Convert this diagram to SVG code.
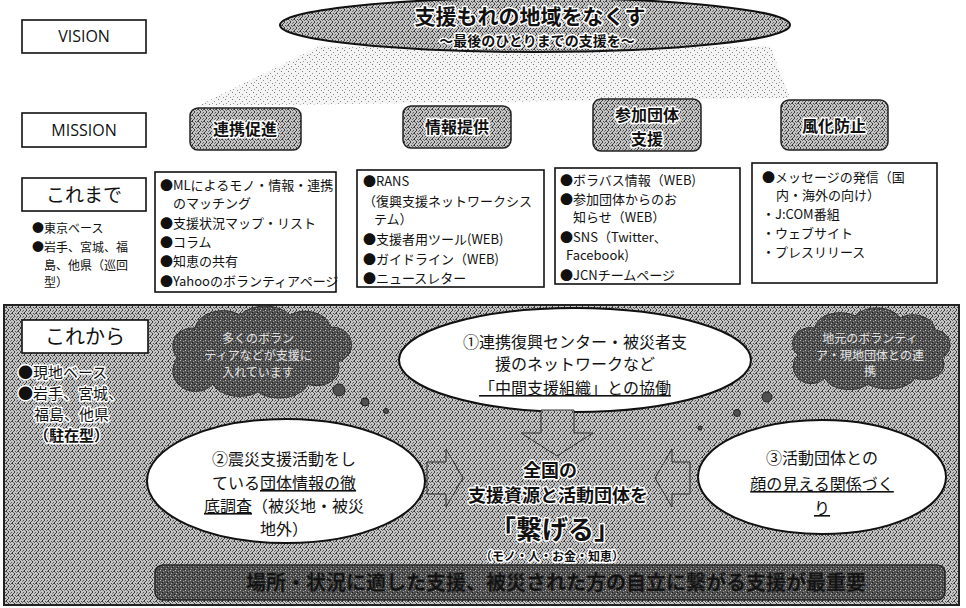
<svg xmlns="http://www.w3.org/2000/svg" width="966" height="608" viewBox="0 0 966 608">
<defs>
<pattern id="ht" width="6" height="6" patternUnits="userSpaceOnUse">
<rect width="6" height="6" fill="#c4c4c4"/>
<rect x="0" y="0" width="1" height="2" fill="#333"/>
<rect x="3" y="1" width="1" height="1" fill="#444"/>
<rect x="2" y="3" width="1" height="2" fill="#3a3a3a"/>
<rect x="5" y="4" width="1" height="1" fill="#555"/>
<rect x="4" y="2" width="1" height="1" fill="#666"/>
<rect x="1" y="5" width="1" height="1" fill="#444"/>
<rect x="4" y="5" width="1" height="1" fill="#777"/>
<rect x="5" y="1" width="1" height="1" fill="#555"/>
<rect x="1" y="2" width="1" height="1" fill="#666"/>
</pattern>
<pattern id="hl" width="7" height="7" patternUnits="userSpaceOnUse">
<rect width="7" height="7" fill="#f4f4f4"/>
<rect x="1" y="1" width="1" height="1" fill="#777"/>
<rect x="4" y="3" width="1" height="1" fill="#888"/>
<rect x="2" y="5" width="1" height="1" fill="#999"/>
<rect x="6" y="6" width="1" height="1" fill="#888"/>
</pattern>
<pattern id="hd" width="5" height="5" patternUnits="userSpaceOnUse">
<rect width="5" height="5" fill="#505050"/>
<rect x="0" y="0" width="1" height="1" fill="#bbb"/>
<rect x="3" y="1" width="1" height="1" fill="#999"/>
<rect x="1" y="3" width="1" height="1" fill="#aaa"/>
<rect x="4" y="4" width="1" height="1" fill="#1a1a1a"/>
<rect x="2" y="2" width="1" height="1" fill="#1a1a1a"/>
</pattern>
<style>
.box{fill:#fff;stroke:#111;stroke-width:1.6}
.lbl{font-family:"Open Sans","Noto Sans",sans-serif;font-size:16px;fill:#111;text-anchor:middle}
.jp{font-family:"Noto Sans CJK JP",sans-serif;fill:#111}
.c{text-anchor:middle}
.s13{font-size:13px}
.halo{stroke:#fff;stroke-width:3;paint-order:stroke;stroke-linejoin:round}
.mbox{fill:url(#ht);stroke:#222;stroke-width:1.5}
.mt{font-family:"Noto Sans CJK JP",sans-serif;font-weight:bold;font-size:16px;fill:#111;text-anchor:middle;stroke:#fff;stroke-width:3;paint-order:stroke;stroke-linejoin:round}
.ell{fill:#fff;stroke:#111;stroke-width:2}
.et{font-family:"Noto Sans CJK JP",sans-serif;font-size:16px;fill:#111;text-anchor:middle}
.cloud{fill:url(#hd);stroke:#333;stroke-width:1}
.ct{font-family:"Noto Sans CJK JP",sans-serif;font-size:12px;fill:#e0e0e0;text-anchor:middle}
.arrow{fill:url(#ht);stroke:#333;stroke-width:1}
.u{text-decoration:underline}
</style>
</defs>

<!-- shaded band under vision -->
<polygon points="320,46 770,46 790,98 198,106" fill="url(#hl)"/>

<g id="vision-label"><rect class="box" x="22" y="20" width="124" height="33"/><text class="lbl" x="84" y="42">VISION</text></g>
<g id="vision">
<ellipse cx="535" cy="25" rx="255" ry="27" fill="url(#ht)" stroke="#111" stroke-width="2"/>
<text class="jp c halo" x="530" y="24" font-size="21" font-weight="bold">支援もれの地域をなくす</text>
<text class="jp c halo" x="537" y="46" font-size="14" font-weight="bold">〜最後のひとりまでの支援を〜</text>
</g>

<g id="mission-label"><rect class="box" x="22" y="113" width="124" height="34"/><text class="lbl" x="84" y="136">MISSION</text></g>
<g id="m1"><rect class="mbox" x="190" y="108" width="111" height="42" rx="8"/><text class="mt" x="245" y="135">連携促進</text></g>
<g id="m2"><rect class="mbox" x="403" y="106" width="108" height="42" rx="8"/><text class="mt" x="457" y="133">情報提供</text></g>
<g id="m3"><rect class="mbox" x="593" y="99" width="108" height="52" rx="8"/><text class="mt" x="647" y="121">参加団体</text><text class="mt" x="647" y="145">支援</text></g>
<g id="m4"><rect class="mbox" x="781" y="100" width="107" height="50" rx="8"/><text class="mt" x="834" y="132">風化防止</text></g>

<g id="korema-label"><rect class="box" x="22" y="178" width="124" height="33"/><text class="jp c" x="84" y="202" font-size="19">これまで</text></g>
<g id="korema-left">
<text class="jp" x="32" y="233" font-size="12">●東京ベース</text>
<text class="jp" x="32" y="252" font-size="12">●岩手、宮城、福</text>
<text class="jp" x="44" y="270" font-size="12">島、他県（巡回</text>
<text class="jp" x="44" y="287" font-size="12">型）</text>
</g>

<g id="b1"><rect class="box" x="155" y="172" width="181" height="120"/>
<text class="jp s13" x="160" y="190">●MLによるモノ・情報・連携</text>
<text class="jp s13" x="173" y="208">のマッチング</text>
<text class="jp s13" x="160" y="228">●支援状況マップ・リスト</text>
<text class="jp s13" x="160" y="247">●コラム</text>
<text class="jp s13" x="160" y="266">●知恵の共有</text>
<text class="jp s13" x="160" y="286">●Yahooのボランティアページ</text>
</g>
<g id="b2"><rect class="box" x="357" y="170" width="187" height="117"/>
<text class="jp s13" x="363" y="186">●RANS</text>
<text class="jp s13" x="363" y="206">（復興支援ネットワークシス</text>
<text class="jp s13" x="374" y="224">テム）</text>
<text class="jp s13" x="363" y="244">●支援者用ツール(WEB)</text>
<text class="jp s13" x="363" y="264">●ガイドライン（WEB)</text>
<text class="jp s13" x="363" y="283">●ニュースレター</text>
</g>
<g id="b3"><rect class="box" x="555" y="168" width="185" height="116"/>
<text class="jp s13" x="560" y="185">●ボラバス情報（WEB)</text>
<text class="jp s13" x="560" y="204">●参加団体からのお</text>
<text class="jp s13" x="573" y="222">知らせ（WEB）</text>
<text class="jp s13" x="560" y="242">●SNS（Twitter、</text>
<text class="jp s13" x="566" y="260">Facebook)</text>
<text class="jp s13" x="560" y="280">●JCNチームページ</text>
</g>
<g id="b4"><rect class="box" x="752" y="163" width="185" height="120"/>
<text class="jp s13" x="762" y="182">●メッセージの発信（国</text>
<text class="jp s13" x="776" y="200">内・海外の向け）</text>
<text class="jp s13" x="762" y="219">・J:COM番組</text>
<text class="jp s13" x="762" y="238">・ウェブサイト</text>
<text class="jp s13" x="762" y="257">・プレスリリース</text>
</g>

<g id="korekara-panel"><rect x="4" y="305" width="955" height="300" fill="url(#ht)" stroke="#222" stroke-width="2"/></g>
<g id="korekara-label"><rect class="box" x="22" y="320" width="126" height="33"/><text class="jp c" x="85" y="344" font-size="20">これから</text></g>
<g id="korekara-left">
<text class="jp halo" x="18" y="378" font-size="15">●現地ベース</text>
<text class="jp halo" x="18" y="399" font-size="15">●岩手、宮城、</text>
<text class="jp halo" x="34" y="420" font-size="15">福島、他県</text>
<text class="jp halo" x="34" y="441" font-size="15" font-weight="bold">（駐在型）</text>
</g>

<g id="cloud-left">
<path class="cloud" d="M178 358 a20 18 0 0 1 17 -30 a28 20 0 0 1 45 -13 a30 20 0 0 1 50 0 a25 18 0 0 1 40 12 a20 18 0 0 1 8 35 a22 18 0 0 1 -30 22 a30 20 0 0 1 -50 8 a28 18 0 0 1 -45 -8 a20 18 0 0 1 -35 -26 z"/>
<text class="ct" x="258" y="343">多くのボラン</text>
<text class="ct" x="258" y="360">ティアなどが支援に</text>
<text class="ct" x="258" y="377">入れています</text>
<circle cx="339" cy="390" r="6" fill="#505050" stroke="#222"/>
<circle cx="365" cy="402" r="4" fill="#505050" stroke="#222"/>
<circle cx="386" cy="411" r="2.5" fill="#505050" stroke="#222"/>
</g>

<g id="cloud-right">
<path class="cloud" d="M798 355 a18 16 0 0 1 17 -27 a25 16 0 0 1 40 -12 a25 16 0 0 1 45 2 a22 16 0 0 1 35 12 a16 15 0 0 1 7 28 a20 15 0 0 1 -27 20 a28 16 0 0 1 -47 6 a25 16 0 0 1 -43 -6 a16 15 0 0 1 -27 -23 z"/>
<text class="ct" x="870" y="343">地元のボランティ</text>
<text class="ct" x="870" y="360">ア・現地団体との連</text>
<text class="ct" x="870" y="376">携</text>
<circle cx="767" cy="397" r="5" fill="#505050" stroke="#222"/>
<circle cx="737" cy="413" r="3.5" fill="#505050" stroke="#222"/>
<circle cx="700" cy="428" r="2" fill="#505050" stroke="#222"/>
</g>

<g id="e1">
<ellipse class="ell" cx="575" cy="360" rx="176" ry="52"/>
<text class="et" x="575" y="348">①連携復興センター・被災者支</text>
<text class="et" x="575" y="370">援のネットワークなど</text>
<text class="et" x="575" y="394"><tspan class="u">「中間支援組織」との協働</tspan></text>
</g>

<g id="connectors">
<path class="arrow" d="M541 410 H574 V433 H593 L557 456 L521 433 H541 Z"/>
<path class="arrow" d="M427 462 H446 V449 L463 478 L446 507 V494 H427 Z"/>
<path class="arrow" d="M690 462 H672 V449 L655 478 L672 507 V494 H690 Z"/>
</g>

<g id="e2">
<ellipse class="ell" cx="286" cy="481" rx="139" ry="62"/>
<text class="et" x="284" y="465" font-size="17">②震災支援活動をし</text>
<text class="et" x="284" y="489" font-size="17">ている<tspan class="u">団体情報の徹</tspan></text>
<text class="et" x="284" y="512" font-size="17"><tspan class="u">底調査</tspan>（被災地・被災</text>
<text class="et" x="284" y="535" font-size="17">地外）</text>
</g>

<g id="e3">
<ellipse class="ell" cx="822" cy="477" rx="124" ry="57"/>
<text class="et" x="822" y="464">③活動団体との</text>
<text class="et" x="822" y="490"><tspan class="u">顔の見える関係づく</tspan></text>
<text class="et" x="822" y="514"><tspan class="u">り</tspan></text>
</g>

<g id="center">
<text class="jp c halo" x="550" y="477" font-size="18" font-weight="bold">全国の</text>
<text class="jp c halo" x="558" y="502" font-size="18" font-weight="bold">支援資源と活動団体を</text>
<text class="jp c halo" x="555" y="539" font-size="26" font-weight="bold">「繋げる」</text>
<text class="jp c halo" x="552" y="561" font-size="12" font-weight="bold">（モノ・人・お金・知恵）</text>
</g>

<g id="banner">
<rect x="155" y="565" width="790" height="35" rx="8" fill="url(#hd)" stroke="#222" stroke-width="1.5"/>
<text class="jp c" x="556" y="590" font-size="20" font-weight="bold" fill="#f2f2f2" stroke="#333" stroke-width="0.5">場所・状況に適した支援、被災された方の自立に繋がる支援が最重要</text>
</g>
</svg>
